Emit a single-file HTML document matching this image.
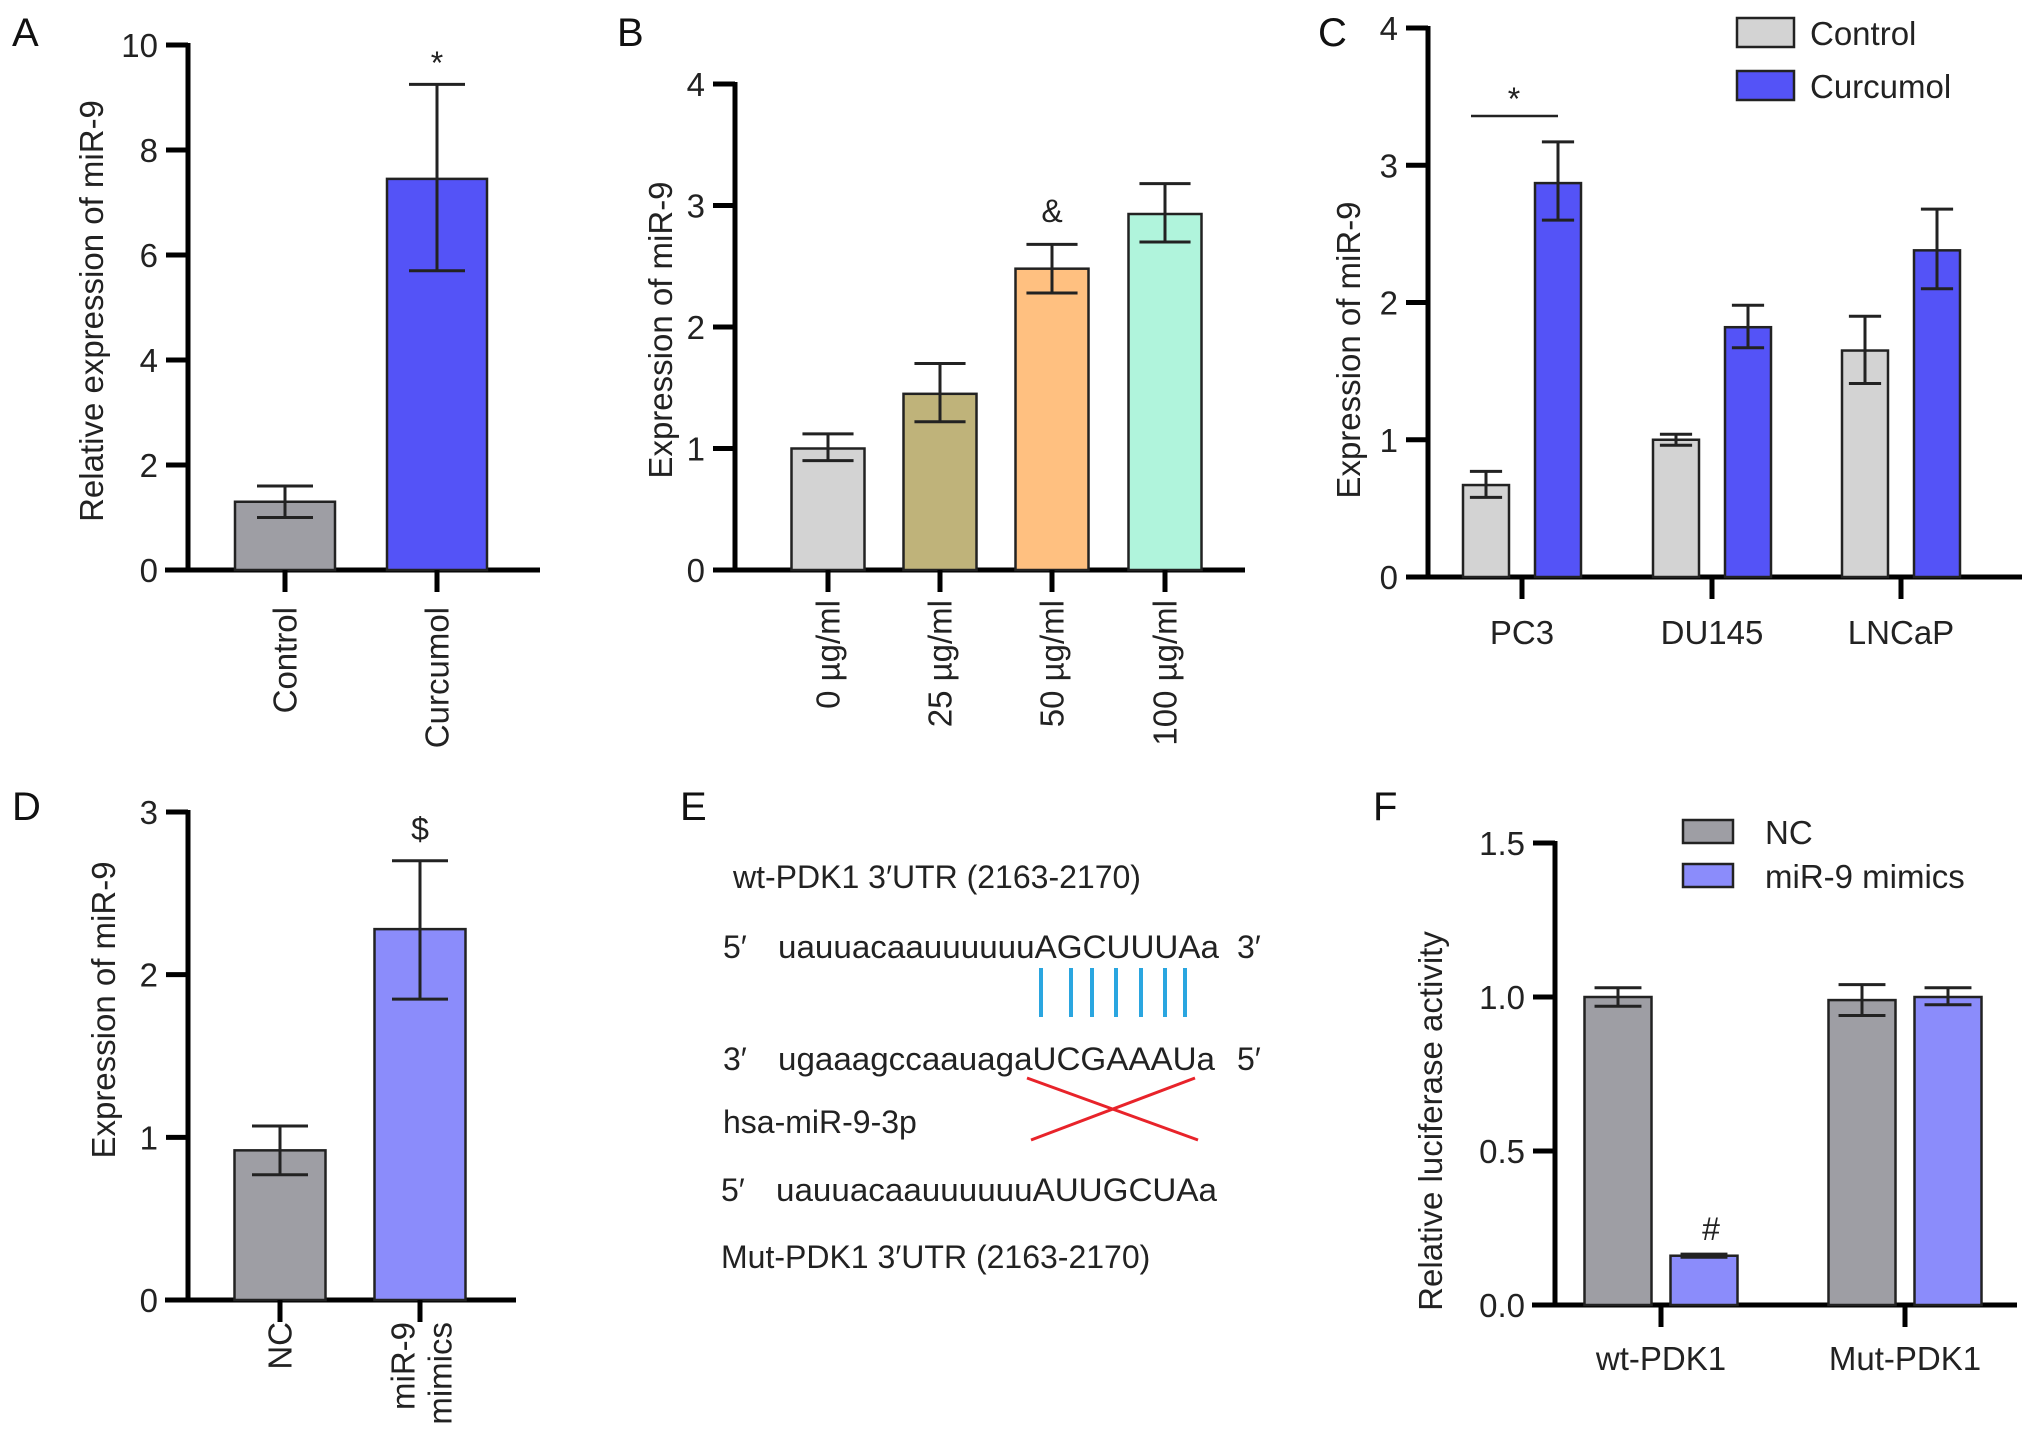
<!DOCTYPE html>
<html><head><meta charset="utf-8"><style>
html,body{margin:0;padding:0;background:#fff;}
svg{display:block;font-family:"Liberation Sans",Arial,sans-serif;}
</style></head><body>
<svg id="fig" width="2032" height="1450" viewBox="0 0 2032 1450" xmlns="http://www.w3.org/2000/svg">
<g font-size="40" fill="#111">
<text x="12" y="46">A</text>
<text x="617" y="46">B</text>
<text x="1318" y="46">C</text>
<text x="12" y="820">D</text>
<text x="680" y="820">E</text>
<text x="1373" y="820">F</text>
</g>
<g id="panelE" font-size="32" fill="#222">
<text x="733" y="888">wt-PDK1 3′UTR (2163-2170)</text>
<text x="723" y="958">5′</text>
<text x="778" y="958" textLength="441" lengthAdjust="spacingAndGlyphs">uauuacaauuuuuuAGCUUUAa</text>
<text x="1237" y="958">3′</text>
<g stroke="#2aa6e0" stroke-width="4">
<line x1="1041" y1="968" x2="1041" y2="1017"/><line x1="1071" y1="968" x2="1071" y2="1017"/><line x1="1092" y1="968" x2="1092" y2="1017"/><line x1="1116" y1="968" x2="1116" y2="1017"/><line x1="1141" y1="968" x2="1141" y2="1017"/><line x1="1165" y1="968" x2="1165" y2="1017"/><line x1="1185" y1="968" x2="1185" y2="1017"/>
</g>
<text x="723" y="1070">3′</text>
<text x="778" y="1070" textLength="437" lengthAdjust="spacingAndGlyphs">ugaaagccaauagaUCGAAAUa</text>
<text x="1237" y="1070">5′</text>
<g stroke="#e8232a" stroke-width="3">
<line x1="1027" y1="1078" x2="1198" y2="1140"/><line x1="1031" y1="1140" x2="1195" y2="1078"/>
</g>
<text x="723" y="1133">hsa-miR-9-3p</text>
<text x="721" y="1201">5′</text>
<text x="776" y="1201" textLength="441" lengthAdjust="spacingAndGlyphs">uauuacaauuuuuuAUUGCUAa</text>
<text x="721" y="1268">Mut-PDK1 3′UTR (2163-2170)</text>
</g>
</svg>
<script>
// Panel A
const aCats=["Control","Curcumol"];
const aVals=[1.3,7.45];
const aLo=[1.0,5.7];
const aHi=[1.6,9.25];
const aTicks=[0,2,4,6,8,10];
// Panel B
const bCats=["0 µg/ml","25 µg/ml","50 µg/ml","100 µg/ml"];
const bVals=[1.0,1.45,2.48,2.93];
const bLo=[0.9,1.22,2.28,2.7];
const bHi=[1.12,1.7,2.68,3.18];
const bTicks=[0,1,2,3,4];
// Panel C
const cCats=["PC3","DU145","LNCaP"];
const cControl=[0.67,1.0,1.65];
const cControlLo=[0.58,0.96,1.41];
const cControlHi=[0.77,1.04,1.9];
const cCurcumol=[2.87,1.82,2.38];
const cCurcumolLo=[2.6,1.67,2.1];
const cCurcumolHi=[3.17,1.98,2.68];
const cTicks=[0,1,2,3,4];
// Panel D
const dCats=["NC","miR-9 mimics"];
const dVals=[0.92,2.28];
const dLo=[0.77,1.85];
const dHi=[1.07,2.7];
const dTicks=[0,1,2,3];
// Panel F
const fCats=["wt-PDK1","Mut-PDK1"];
const fNC=[1.0,0.99];
const fNCLo=[0.97,0.94];
const fNCHi=[1.03,1.04];
const fMim=[0.16,1.0];
const fMimLo=[0.155,0.975];
const fMimHi=[0.165,1.03];
const fTicks=["0.0","0.5","1.0","1.5"];

const NS="http://www.w3.org/2000/svg";
const svg=document.getElementById('fig');
const FS=33;
function mk(tag,attrs,parent){const e=document.createElementNS(NS,tag);for(const k in attrs)e.setAttribute(k,attrs[k]);(parent||svg).appendChild(e);return e;}
function scale(v0,v1,p0,p1){return v=>p0+(v-v0)*(p1-p0)/(v1-v0);}

function axes(g,ax,x0,x1,yTop,yBot,ticks,yS){
  const yl=mk('line',{x1:ax,y1:yTop-2,x2:ax,y2:yBot+2,stroke:'#000','stroke-width':5},g);
  
  
  const xl=mk('line',{x1:x0,y1:yBot,x2:x1,y2:yBot,stroke:'#000','stroke-width':5},g);
  
  
  ticks.forEach(t=>{
    const v=parseFloat(t);const y=yS(v);
    const tl=mk('line',{x1:ax-22,y1:y,x2:ax,y2:y,stroke:'#000','stroke-width':5},g);
    
    
    const tx=mk('text',{x:ax-30,y:y+12,'text-anchor':'end','font-size':FS,fill:'#222'},g);
    tx.textContent=String(t);
    
    
  });
}
function bar(g,xL,xR,v,lo,hi,yS,fill,name){
  const r=mk('rect',{x:xL,y:yS(v),width:xR-xL,height:yS(0)-yS(v),fill:fill,stroke:'#222','stroke-width':2.5},g);
  
  
  const cx=(xL+xR)/2,cw=Math.min(28,(xR-xL)*0.35);
  const e=mk('path',{d:`M${cx},${yS(lo)}V${yS(hi)}M${cx-cw},${yS(hi)}H${cx+cw}M${cx-cw},${yS(lo)}H${cx+cw}`,stroke:'#222','stroke-width':3,fill:'none'},g);
  
  
}
function ytitle(g,x,y,txt){
  const t=mk('text',{x:x,y:y,transform:`rotate(-90 ${x} ${y})`,'text-anchor':'middle','font-size':FS,fill:'#222'},g);
  t.textContent=txt;
  
  
}
function xtick(g,x,yBot){const l=mk('line',{x1:x,y1:yBot,x2:x,y2:yBot+22,stroke:'#000','stroke-width':5},g);
  
  }
function rotLabel(g,x,yTop,txt,name){
  const t=mk('text',{x:x,y:yTop,transform:`rotate(-90 ${x} ${yTop})`,'text-anchor':'end','font-size':FS,fill:'#222',dy:'0.35em'},g);
  t.textContent=txt;
  
  
  return t;
}
function annot(g,x,y,txt,size){const t=mk('text',{x:x,y:y,'text-anchor':'middle','font-size':size||FS,fill:'#222'},g);t.textContent=txt;
  
  }

// ---- Panel A
(function(){
  const g=mk('g',{});
  
  
  const yS=scale(0,10,570,45);
  axes(g,188,165,540,45,570,aTicks,yS);
  const centers=[285,437],w=100,fills=['#9e9ea4','#5453f7'];
  aCats.forEach((c,i)=>{bar(g,centers[i]-w/2,centers[i]+w/2,aVals[i],aLo[i],aHi[i],yS,fills[i],'bar-'+c.toLowerCase());xtick(g,centers[i],570);rotLabel(g,centers[i],607,c,'x-label-'+c.toLowerCase());});
  annot(g,437,74,'*',32);
  ytitle(g,103,311,'Relative expression of miR-9');
})();
// ---- Panel B
(function(){
  const g=mk('g',{});
  
  
  const yS=scale(0,4,570,84);
  axes(g,735,715,1245,84,570,bTicks,yS);
  const centers=[828,940,1052,1165],w=73,fills=['#d3d3d3','#bfb37a','#ffc080','#b0f4dc'];
  bCats.forEach((c,i)=>{bar(g,centers[i]-w/2,centers[i]+w/2,bVals[i],bLo[i],bHi[i],yS,fills[i],'bar-dose-'+i);xtick(g,centers[i],570);rotLabel(g,centers[i],600,c,'x-label-dose-'+i);});
  annot(g,1052,222,'&',32);
  ytitle(g,672,330,'Expression of miR-9');
})();
// ---- Panel C
(function(){
  const g=mk('g',{});
  
  
  const yS=scale(0,4,577,28);
  axes(g,1428,1406,2022,28,577,cTicks,yS);
  const groups=[1522,1712,1901],w=46,off=36;
  cCats.forEach((c,i)=>{
    bar(g,groups[i]-off-w/2,groups[i]-off+w/2,cControl[i],cControlLo[i],cControlHi[i],yS,'#d3d3d3','bar-control-'+c.toLowerCase());
    bar(g,groups[i]+off-w/2,groups[i]+off+w/2,cCurcumol[i],cCurcumolLo[i],cCurcumolHi[i],yS,'#5453f7','bar-curcumol-'+c.toLowerCase());
    xtick(g,groups[i],577);
    const t=mk('text',{x:groups[i],y:644,'text-anchor':'middle','font-size':FS,fill:'#222'},g);t.textContent=c;
    
    
  });
  const sl=mk('line',{x1:1471,y1:116,x2:1558,y2:116,stroke:'#222','stroke-width':2.5},g);
  
  
  annot(g,1514,110,'*',32);
  ytitle(g,1360,350,'Expression of miR-9');
  const legend=[['Control','#d3d3d3',18],['Curcumol','#5453f7',71]];
  legend.forEach(l=>{
    const r=mk('rect',{x:1737,y:l[2],width:57,height:29,fill:l[1],stroke:'#222','stroke-width':2.5},g);
    
    
    const t=mk('text',{x:1810,y:l[2]+27,'font-size':FS,fill:'#222'},g);t.textContent=l[0];
    
    
  });
})();
// ---- Panel D
(function(){
  const g=mk('g',{});
  
  
  const yS=scale(0,3,1300,812);
  axes(g,188,165,516,812,1300,dTicks,yS);
  const centers=[280,420],w=91,fills=['#9e9ea4','#8b8cfb'];
  dCats.forEach((c,i)=>{bar(g,centers[i]-w/2,centers[i]+w/2,dVals[i],dLo[i],dHi[i],yS,fills[i],'bar-'+(i?'mimics':'nc'));xtick(g,centers[i],1300);});
  rotLabel(g,280,1322,'NC','x-label-nc');
  rotLabel(g,403,1322,'miR-9','x-label-mimics-line1');
  rotLabel(g,440,1322,'mimics','x-label-mimics-line2');
  annot(g,420,840,'$',32);
  ytitle(g,115,1010,'Expression of miR-9');
})();
// ---- Panel F
(function(){
  const g=mk('g',{});
  
  
  const yS=scale(0,1.5,1305,843);
  axes(g,1555,1532,2017,843,1305,fTicks,yS);
  const groups=[1661,1905],w=67,off=43;
  fCats.forEach((c,i)=>{
    bar(g,groups[i]-off-w/2,groups[i]-off+w/2,fNC[i],fNCLo[i],fNCHi[i],yS,'#9e9ea4','bar-nc-'+c.toLowerCase());
    bar(g,groups[i]+off-w/2,groups[i]+off+w/2,fMim[i],fMimLo[i],fMimHi[i],yS,'#8b8cfb','bar-mimics-'+c.toLowerCase());
    xtick(g,groups[i],1305);
    const t=mk('text',{x:groups[i],y:1370,'text-anchor':'middle','font-size':FS,fill:'#222'},g);t.textContent=c;
    
    
  });
  annot(g,1711,1240,'#',32);
  ytitle(g,1442,1121,'Relative luciferase activity');
  const legend=[['NC','#9e9ea4',820],['miR-9 mimics','#8b8cfb',864]];
  legend.forEach(l=>{
    const r=mk('rect',{x:1683,y:l[2],width:50,height:23,fill:l[1],stroke:'#222','stroke-width':2.5},g);
    
    
    const t=mk('text',{x:1765,y:l[2]+24,'font-size':FS,fill:'#222'},g);t.textContent=l[0];
    
    
  });
})();
</script>
</body></html>
